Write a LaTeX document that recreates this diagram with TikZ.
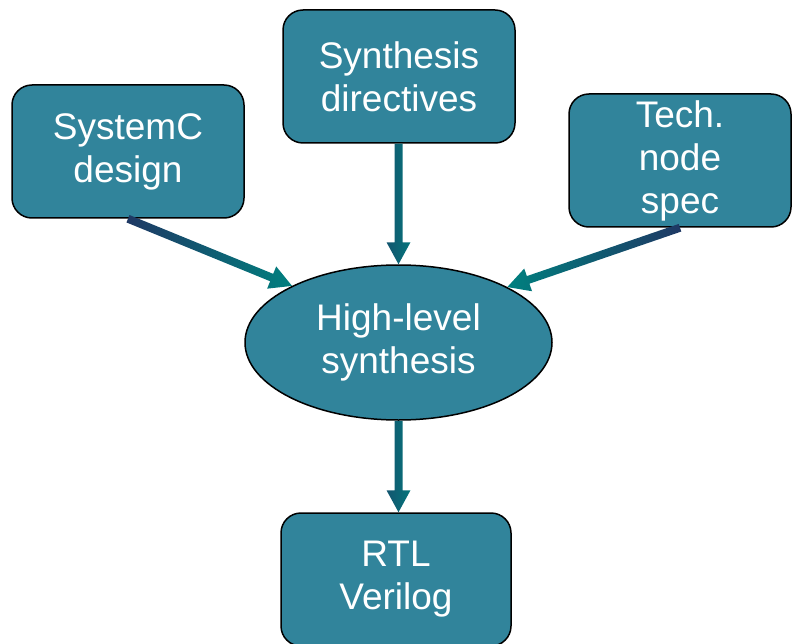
\documentclass[tikz,border=0pt]{standalone}
\usepackage{fontspec}
\setmainfont{Liberation Sans}
\usetikzlibrary{calc,shapes.geometric}
\definecolor{hlsteal}{HTML}{31849B}
\definecolor{arrnavy}{HTML}{1F3864}
\definecolor{arrteal}{HTML}{00807F}
% filled arrow with a horizontal colour ramp
\newcommand{\shadearrow}[3]{%
  \coordinate (ah) at ($(#2)!22pt!(#1)$);
  \shade[#3] ($(#1)!4pt!90:(#2)$) -- ($(ah)!4pt!90:(#2)$) -- ($(ah)!12pt!90:(#2)$) -- (#2)
    -- ($(ah)!12pt!-90:(#2)$) -- ($(ah)!4pt!-90:(#2)$) -- ($(#1)!4pt!-90:(#2)$) -- cycle;}

\begin{document}
\begin{tikzpicture}[
    x=1pt,y=1pt,
    every node/.style={font=\fontsize{37}{43}\selectfont},
    box/.style={rectangle,rounded corners=20pt,draw=black,line width=1.5pt,
      fill=hlsteal,text=white,align=center,minimum width=232pt,minimum height=133pt,inner sep=2pt},
    oval/.style={ellipse,draw=black,line width=1.5pt,fill=hlsteal,text=white,
      align=center,minimum width=307pt,minimum height=155pt,inner sep=0pt},
    toright/.style={left color=arrnavy,right color=arrteal},
    toleft/.style={left color=arrteal,right color=arrnavy},
    todown/.style={left color=arrnavy!60!arrteal,right color=arrteal!85!arrnavy},
  ]
  \useasboundingbox (0,0) rectangle (794,-644);
  \node[box] (sysc) at (128,-151.5) {SystemC\\design};
  \node[box] (dir) at (399,-76.5) {Synthesis\\directives};
  \node[box,minimum width=222pt] (tech) at (680,-160.5) {Tech.\\node\\spec};
  \node[oval] (hls) at (398.5,-342.5) {High-level\\synthesis};
  \node[box,minimum width=230pt] (rtl) at (396,-579.5) {RTL\\Verilog};
  \shadearrow{sysc.south}{hls.152}{toright}
  \shadearrow{dir.south -| hls.north}{hls.north}{todown}
  \shadearrow{tech.south}{hls.27}{toleft}
  \shadearrow{hls.south}{hls.south |- rtl.north}{todown}
\end{tikzpicture}
\end{document}
